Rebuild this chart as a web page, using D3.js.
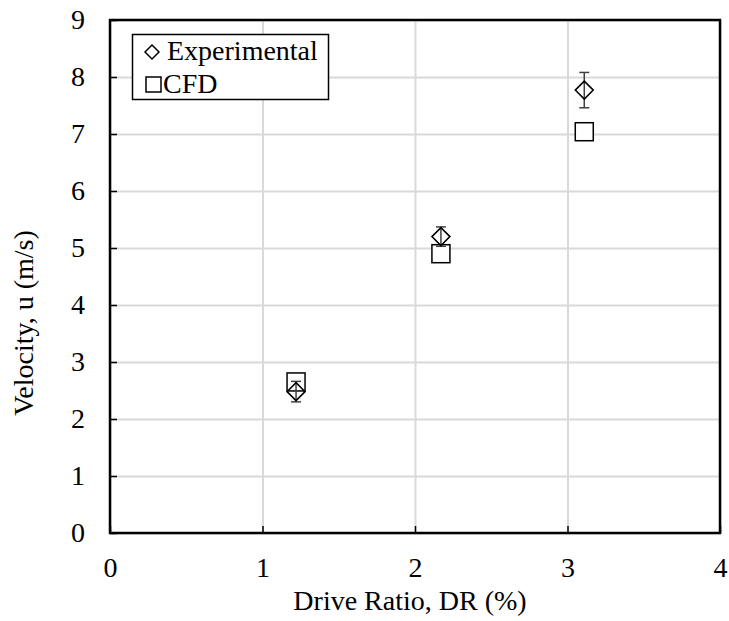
<!DOCTYPE html>
<html>
<head>
<meta charset="utf-8">
<script src="https://cdn.jsdelivr.net/npm/d3@7"></script>
<style>
  body { margin: 0; background: #fff; }
  text { font-family: "Liberation Serif", "Times New Roman", serif; fill: #000; }
</style>
</head>
<body>
<svg width="729" height="621"></svg>
<script>
// data
const expX = [1.22, 2.17, 3.11];
const expY = [2.48, 5.2, 7.77];
const expErr = [0.18, 0.17, 0.31];
const cfdX = [1.22, 2.17, 3.11];
const cfdY = [2.65, 4.9, 7.04];
const xTicks = [0, 1, 2, 3, 4];
const yTicks = [0, 1, 2, 3, 4, 5, 6, 7, 8, 9];

const svg = d3.select('svg');
const margin = { left: 110, top: 20, right: 9, bottom: 88 };
const width = +svg.attr('width');
const height = +svg.attr('height');
const innerWidth = width - margin.left - margin.right;
const innerHeight = height - margin.top - margin.bottom;
const fontSize = '28px';

const xScale = d3.scaleLinear().domain([0, 4]).range([0, innerWidth]);
const yScale = d3.scaleLinear().domain([0, 9]).range([innerHeight, 0]);

const g = svg.append('g')
  .attr('transform', `translate(${margin.left}, ${margin.top})`);

// gridlines
const xGrid = g.append('g')
  .attr('transform', `translate(0, ${innerHeight})`)
  .call(d3.axisBottom(xScale).tickValues(xTicks).tickSize(-innerHeight).tickFormat(''));
xGrid.selectAll('.domain').remove();
xGrid.selectAll('text').remove();
xGrid.selectAll('line').attr('stroke', '#d9d9d9').attr('stroke-width', 2);

const yGrid = g.append('g')
  .call(d3.axisLeft(yScale).tickValues(yTicks).tickSize(-innerWidth).tickFormat(''));
yGrid.selectAll('.domain').remove();
yGrid.selectAll('text').remove();
yGrid.selectAll('line').attr('stroke', '#d9d9d9').attr('stroke-width', 2);

// axes with inside ticks
const xAxisG = g.append('g')
  .attr('transform', `translate(0, ${innerHeight})`)
  .call(d3.axisBottom(xScale).tickValues(xTicks).tickFormat(d3.format('d'))
    .tickSizeInner(-7).tickSizeOuter(0).tickPadding(24));
xAxisG.selectAll('.domain').remove();
xAxisG.selectAll('line').attr('stroke', '#000').attr('stroke-width', 1.5);
xAxisG.selectAll('text').style('font-size', fontSize).style('font-family', '"Liberation Serif", serif');

const yAxisG = g.append('g')
  .call(d3.axisLeft(yScale).tickValues(yTicks).tickFormat(d3.format('d'))
    .tickSizeInner(-7).tickSizeOuter(0).tickPadding(25));
yAxisG.selectAll('.domain').remove();
yAxisG.selectAll('line').attr('stroke', '#000').attr('stroke-width', 1.5);
yAxisG.selectAll('text').style('font-size', fontSize).style('font-family', '"Liberation Serif", serif');

// frame
g.append('rect')
  .attr('width', innerWidth).attr('height', innerHeight)
  .attr('fill', 'none').attr('stroke', '#000').attr('stroke-width', 2.5);

// CFD squares
const sq = 18;
g.selectAll('.cfd').data(cfdX.map((x, i) => ({ x, y: cfdY[i] })))
  .enter().append('rect')
  .attr('class', 'cfd')
  .attr('x', d => xScale(d.x) - sq / 2)
  .attr('y', d => yScale(d.y) - sq / 2)
  .attr('width', sq).attr('height', sq)
  .attr('fill', '#fff').attr('stroke', '#000').attr('stroke-width', 1.5);

// experimental error bars
const expData = expX.map((x, i) => ({ x, y: expY[i], e: expErr[i] }));
const eb = g.selectAll('.err').data(expData).enter().append('g').attr('class', 'err')
  .attr('stroke', '#404040').attr('stroke-width', 1.5);
eb.append('line')
  .attr('x1', d => xScale(d.x)).attr('x2', d => xScale(d.x))
  .attr('y1', d => yScale(d.y - d.e)).attr('y2', d => yScale(d.y + d.e));
eb.append('line')
  .attr('x1', d => xScale(d.x) - 5).attr('x2', d => xScale(d.x) + 5)
  .attr('y1', d => yScale(d.y + d.e)).attr('y2', d => yScale(d.y + d.e));
eb.append('line')
  .attr('x1', d => xScale(d.x) - 5).attr('x2', d => xScale(d.x) + 5)
  .attr('y1', d => yScale(d.y - d.e)).attr('y2', d => yScale(d.y - d.e));

// experimental diamonds
const dm = 9;
const diamond = (cx, cy, r) => `M${cx},${cy - r}L${cx + r},${cy}L${cx},${cy + r}L${cx - r},${cy}Z`;
g.selectAll('.exp').data(expData).enter().append('path')
  .attr('class', 'exp')
  .attr('d', d => diamond(xScale(d.x), yScale(d.y), dm))
  .attr('fill', 'none').attr('stroke', '#000').attr('stroke-width', 1.5);

// legend
const lg = svg.append('g');
lg.append('rect').attr('x', 132.5).attr('y', 34.5).attr('width', 196).attr('height', 65)
  .attr('fill', '#fff').attr('stroke', '#000').attr('stroke-width', 1.5);
lg.append('path').attr('d', diamond(152, 52, 7)).attr('fill', 'none').attr('stroke', '#000').attr('stroke-width', 1.5);
lg.append('text').attr('x', 167).attr('y', 60).style('font-size', fontSize).text('Experimental');
lg.append('rect').attr('x', 146).attr('y', 77).attr('width', 15).attr('height', 15)
  .attr('fill', 'none').attr('stroke', '#000').attr('stroke-width', 1.5);
lg.append('text').attr('x', 163).attr('y', 93).style('font-size', fontSize).text('CFD');

// axis titles
svg.append('text')
  .attr('x', 410).attr('y', 610)
  .attr('text-anchor', 'middle').style('font-size', fontSize)
  .text('Drive Ratio, DR (%)');
svg.append('text')
  .attr('transform', 'translate(33, 323) rotate(-90)')
  .attr('text-anchor', 'middle').style('font-size', fontSize)
  .text('Velocity, u (m/s)');
</script>
</body>
</html>
